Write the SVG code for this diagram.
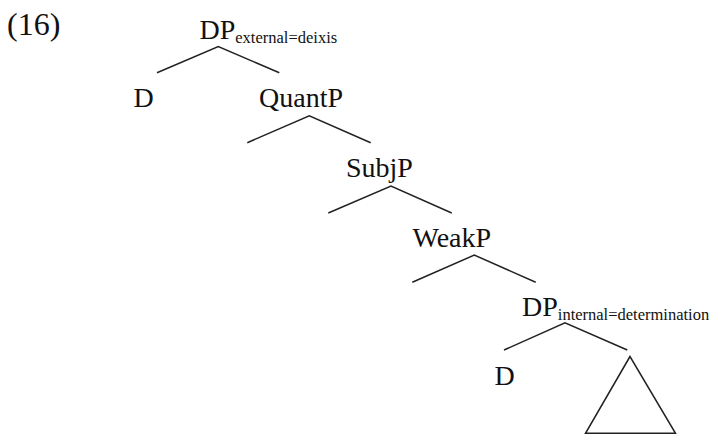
<svg xmlns="http://www.w3.org/2000/svg" width="711" height="435" viewBox="0 0 711 435">
  <style>
    .lbl { font-family: "Liberation Serif", "Times New Roman", serif; font-size: 28px; fill: #111; }
    .sub { font-size: 16.5px; }
    .num { font-family: "Liberation Serif", "Times New Roman", serif; font-size: 32px; fill: #111; }
    .branch { fill: none; stroke: #222; stroke-width: 1.5; stroke-linejoin: miter; }
  </style>
  <rect width="711" height="435" fill="#fff"/>

  <text class="num" x="7" y="35">(16)</text>

  <g id="connectors">
    <polyline class="branch" points="157,72.7 218.3,46.5 279.3,72.7"/>
    <polyline class="branch" points="247.3,142.7 309.3,115.7 370.7,142.7"/>
    <polyline class="branch" points="328.3,213 391,186 451.7,213"/>
    <polyline class="branch" points="412.3,282.3 474.3,255 535.7,282.3"/>
    <polyline class="branch" points="504,350 565,322.7 627.3,350"/>
  </g>

  <g id="dp-external">
    <text class="lbl" x="199.5" y="39">DP<tspan class="sub" dy="4">external=deixis</tspan></text>
  </g>
  <g id="d-upper">
    <text class="lbl" x="133.5" y="107">D</text>
  </g>
  <g id="quantp">
    <text class="lbl" x="259" y="107">QuantP</text>
  </g>
  <g id="subjp">
    <text class="lbl" x="346" y="177">SubjP</text>
  </g>
  <g id="weakp">
    <text class="lbl" x="412.5" y="247">WeakP</text>
  </g>
  <g id="dp-internal">
    <text class="lbl" x="522" y="316">DP<tspan class="sub" dy="4">internal=determination</tspan></text>
  </g>
  <g id="d-lower">
    <text class="lbl" x="494.5" y="385">D</text>
  </g>
  <g id="triangle">
    <polygon class="branch" points="630,356.5 585.5,433.3 675.5,433.3"/>
  </g>
</svg>
